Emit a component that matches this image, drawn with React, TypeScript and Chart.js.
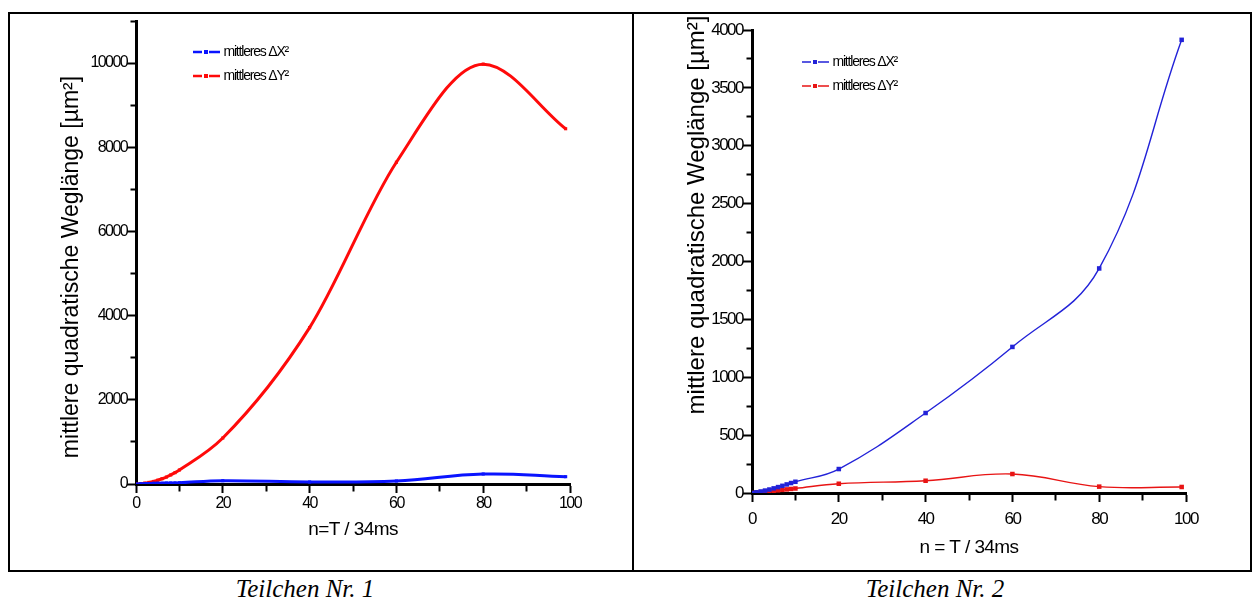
import React, { useEffect, useRef } from 'react';
import { Chart, registerables } from 'chart.js';

Chart.register(...registerables);

// ---------- data ----------
const nValues = [0, 1, 2, 3, 4, 5, 6, 7, 8, 9, 10, 20, 40, 60, 80, 99];
const p1DeltaX2 = [0, 4, 8, 12, 15, 18, 20, 22, 24, 26, 28, 78, 48, 71, 237, 174];
const p1DeltaY2 = [0, 8, 20, 38, 60, 90, 125, 165, 215, 270, 333, 1093, 3715, 7645, 9975, 8440];
const p2DeltaX2 = [0, 6, 13, 21, 30, 40, 51, 62, 74, 86, 97, 207, 691, 1262, 1940, 3915];
const p2DeltaY2 = [0, 3, 7, 11, 15, 19, 23, 27, 31, 35, 39, 80, 106, 164, 55, 52];
const legendLabels = ['mittleres \u0394X\u00B2', 'mittleres \u0394Y\u00B2'];
const yTitleText = 'mittlere quadratische Wegl\u00E4nge [\u00B5m\u00B2]';
const xTitleTexts = ['n=T / 34ms', 'n = T / 34ms'];
const captions = ['Teilchen Nr. 1', 'Teilchen Nr. 2'];

const SANS = "'Liberation Sans', Arial, sans-serif";
const SERIF = "'Liberation Serif', 'Times New Roman', serif";

type Spec = {
  left: number; top: number; width: number; height: number;
  yMax: number; yStep: number; yMajor: number;
  series: number[][]; colors: string[]; lineWidth: number; pointRadius: number;
  modes: string[];
  padding: { left: number; right: number; top: number; bottom: number };
  yAxisWidth: number; xAxisHeight: number;
  tickFont: number; tickSpacing: string; xTickPad: number; yTickPad: number;
  yTitleSize: number; yTitleX: number; yTitleY: number;
  xTitle: string; xTitleSize: number; xTitlePad: number;
  symLeft: number; rowY: number; legendLineW: number;
};

function makeSymbol(color: string, lw: number) {
  const c = document.createElement('canvas');
  c.width = 27; c.height = 8;
  const ctx = c.getContext('2d')!;
  ctx.strokeStyle = color;
  ctx.lineWidth = lw;
  ctx.beginPath();
  ctx.moveTo(0, 4); ctx.lineTo(9, 4);
  ctx.moveTo(16, 4); ctx.lineTo(27, 4);
  ctx.stroke();
  ctx.fillStyle = color;
  ctx.fillRect(11, 2, 4, 4);
  return c;
}

function withSpacing(obj: any, name: string, spacing: string) {
  if (!obj || obj['__ls_' + name]) return;
  const orig = obj[name];
  obj[name] = function (...args: any[]) {
    const ctx = this.ctx;
    const prev = ctx.letterSpacing;
    ctx.letterSpacing = spacing;
    try {
      return orig.apply(this, args);
    } finally {
      ctx.letterSpacing = prev;
    }
  };
  obj['__ls_' + name] = true;
}

const layoutTweaks = {
  id: 'layoutTweaks',
  beforeDraw(chart: any, _args: any, opts: any) {
    const lg = chart.legend;
    if (lg) {
      const dx = opts.x - lg.left;
      const dy = opts.y - lg.top;
      lg.left += dx; lg.right += dx; lg.top += dy; lg.bottom += dy;
      withSpacing(lg, 'draw', opts.legendSpacing);
    }
    withSpacing(chart.scales.x, 'drawLabels', opts.tickSpacing);
    withSpacing(chart.scales.y, 'drawLabels', opts.tickSpacing);
    withSpacing(chart.scales.x, 'drawTitle', opts.titleSpacing);
  },
  afterDraw(chart: any, _args: any, opts: any) {
    const ctx = chart.ctx;
    ctx.save();
    ctx.translate(opts.yTitleX, opts.yTitleY);
    ctx.rotate(-Math.PI / 2);
    ctx.font = `${opts.yTitleSize}px ${SANS}`;
    ctx.fillStyle = '#000';
    ctx.textAlign = 'center';
    ctx.textBaseline = 'middle';
    ctx.fillText(opts.yTitle, 0, 0);
    ctx.restore();
  },
};

function buildConfig(s: Spec): any {
  const symbols = s.colors.map((c) => makeSymbol(c, s.legendLineW));
  const tickLen = 9;
  const minorLen = 4;
  const axisW = 3;
  return {
    type: 'line',
    data: {
      datasets: s.series.map((vals, i) => ({
        label: legendLabels[i],
        data: nValues.map((n, j) => ({ x: n, y: vals[j] })),
        borderColor: s.colors[i],
        backgroundColor: s.colors[i],
        borderWidth: s.lineWidth,
        pointRadius: s.pointRadius,
        pointStyle: 'rect',
        pointBorderWidth: 0,
        tension: 0.4,
        cubicInterpolationMode: s.modes[i],
        fill: false,
      })),
    },
    options: {
      responsive: false,
      animation: false,
      devicePixelRatio: 1,
      layout: { padding: s.padding },
      scales: {
        x: {
          type: 'linear',
          min: 0,
          max: 100,
          afterFit: (sc: any) => {
            sc.height = s.xAxisHeight;
            sc.paddingLeft = 0; sc.paddingRight = 0;
          },
          ticks: {
            stepSize: 10,
            autoSkip: false,
            maxRotation: 0,
            padding: s.xTickPad,
            color: '#000',
            font: { family: SANS, size: s.tickFont },
            callback: (v: number) => (v % 20 === 0 ? String(v) : ''),
          },
          grid: {
            display: true,
            drawOnChartArea: false,
            drawTicks: true,
            tickLength: tickLen,
            tickWidth: 2,
            tickColor: '#000',
            tickBorderDash: (ctx: any) => (ctx.tick && ctx.tick.value % 20 === 0 ? [] : [minorLen + axisW / 2, 100]),
          },
          border: { display: true, color: '#000', width: axisW },
          title: {
            display: true,
            text: s.xTitle,
            color: '#000',
            font: { family: SANS, size: s.xTitleSize },
            padding: { top: 0, bottom: s.xTitlePad },
          },
        },
        y: {
          type: 'linear',
          min: 0,
          max: s.yMax,
          afterFit: (sc: any) => {
            sc.width = s.yAxisWidth;
            sc.paddingTop = 0; sc.paddingBottom = 0;
          },
          ticks: {
            stepSize: s.yStep,
            autoSkip: false,
            padding: s.yTickPad,
            color: '#000',
            font: { family: SANS, size: s.tickFont },
            callback: (v: number) => (v % s.yMajor === 0 ? String(v) : ''),
          },
          grid: {
            display: true,
            drawOnChartArea: false,
            drawTicks: true,
            tickLength: tickLen,
            tickWidth: 2,
            tickColor: '#000',
            tickBorderDash: (ctx: any) =>
              ctx.tick && ctx.tick.value % s.yMajor === 0 ? [] : [0, tickLen - axisW / 2 - minorLen, 100],
          },
          border: { display: true, color: '#000', width: axisW },
        },
      },
      plugins: {
        tooltip: { enabled: false },
        legend: {
          display: true,
          position: 'chartArea',
          align: 'start',
          labels: {
            usePointStyle: true,
            pointStyleWidth: 20,
            padding: 10,
            color: '#000',
            font: { family: SANS, size: 14 },
            generateLabels: (chart: any) =>
              chart.data.datasets.map((ds: any, i: number) => ({
                text: ds.label,
                pointStyle: symbols[i],
                fillStyle: s.colors[i],
                strokeStyle: s.colors[i],
                lineWidth: 0,
                hidden: false,
                datasetIndex: i,
                fontColor: '#000',
              })),
          },
        },
        layoutTweaks: {
          x: s.symLeft + 3.5 - 10 - s.left,
          y: s.rowY - 17 - s.top,
          legendSpacing: '-1.2px',
          tickSpacing: s.tickSpacing,
          titleSpacing: '-0.6px',
          yTitle: yTitleText,
          yTitleSize: s.yTitleSize,
          yTitleX: s.yTitleX - s.left,
          yTitleY: s.yTitleY - s.top,
        },
      },
    },
    plugins: [layoutTweaks],
  };
}

function Panel({ spec }: { spec: Spec }) {
  const ref = useRef<HTMLCanvasElement>(null);
  useEffect(() => {
    const chart = new Chart(ref.current!, buildConfig(spec));
    return () => chart.destroy();
  }, []);
  return (
    <canvas
      ref={ref}
      width={spec.width}
      height={spec.height}
      style={{ position: 'absolute', left: spec.left, top: spec.top, width: spec.width, height: spec.height }}
    />
  );
}

const leftSpec: Spec = {
  left: 10, top: 14, width: 620, height: 556,
  yMax: 11000, yStep: 1000, yMajor: 2000,
  series: [p1DeltaX2, p1DeltaY2], colors: ['#0a14ff', '#ff0a0a'], lineWidth: 3, pointRadius: 2.2,
  modes: ['default', 'monotone'],
  padding: { left: 0, right: 60, top: 7, bottom: 0 },
  yAxisWidth: 126, xAxisHeight: 86,
  tickFont: 16, tickSpacing: '-1.6px', xTickPad: 1, yTickPad: 0,
  yTitleSize: 23, yTitleX: 72, yTitleY: 267,
  xTitle: xTitleTexts[0], xTitleSize: 19, xTitlePad: 29,
  symLeft: 193, rowY: 52, legendLineW: 2.5,
};

const rightSpec: Spec = {
  left: 636, top: 14, width: 614, height: 556,
  yMax: 4000, yStep: 250, yMajor: 500,
  series: [p2DeltaX2, p2DeltaY2], colors: ['#2222d8', '#e81414'], lineWidth: 1.4, pointRadius: 3.2,
  modes: ['default', 'default'],
  padding: { left: 0, right: 64, top: 16, bottom: 0 },
  yAxisWidth: 116, xAxisHeight: 77,
  tickFont: 17, tickSpacing: '-1.5px', xTickPad: 7, yTickPad: 0,
  yTitleSize: 24, yTitleX: 697, yTitleY: 215,
  xTitle: xTitleTexts[1], xTitleSize: 19, xTitlePad: 11,
  symLeft: 802, rowY: 62, legendLineW: 1.3,
};

const captionStyle: React.CSSProperties = {
  position: 'absolute', top: 576, width: 300, height: 26, lineHeight: '26px', textAlign: 'center',
  fontFamily: SERIF, fontStyle: 'italic', fontSize: 25,
};

export default function App() {
  return (
    <div style={{ position: 'absolute', left: 0, top: 0, width: 1252, height: 601, background: '#fff', overflow: 'hidden' }}>
      <div style={{ position: 'absolute', left: 8, top: 12, width: 1244, height: 560, boxSizing: 'border-box', border: '2px solid #000' }} />
      <div style={{ position: 'absolute', left: 632, top: 12, width: 2, height: 560, background: '#000' }} />
      <Panel spec={leftSpec} />
      <Panel spec={rightSpec} />
      <div style={{ ...captionStyle, left: 305 - 150 }}>{captions[0]}</div>
      <div style={{ ...captionStyle, left: 935 - 150 }}>{captions[1]}</div>
    </div>
  );
}
